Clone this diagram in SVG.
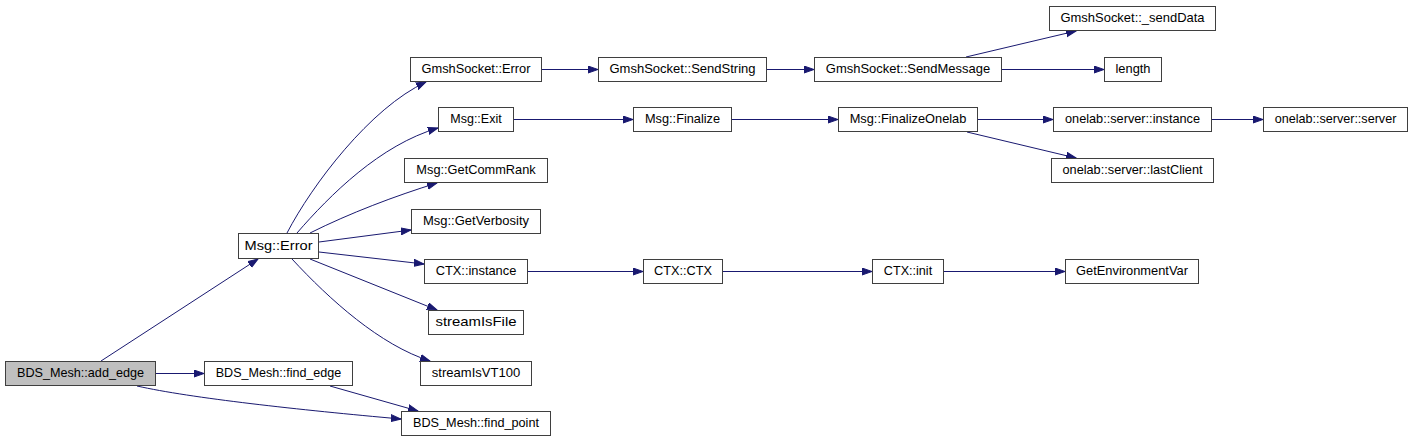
<svg xmlns="http://www.w3.org/2000/svg" width="1413" height="443" viewBox="0 0 1413 443">
<style>
.n rect{fill:#ffffff;stroke:#3f3f3f;stroke-width:1}
.n.root rect{fill:#bfbfbf}
.n text{font-family:"Liberation Sans",Arial,sans-serif;font-size:13px;fill:#000;text-anchor:middle}
#edges path{fill:none;stroke:#191970;stroke-width:1;marker-end:url(#arr)}
</style>
<defs>
<marker id="arr" markerUnits="userSpaceOnUse" markerWidth="12" markerHeight="10" refX="10" refY="4" orient="auto" viewBox="0 0 12 10">
<path d="M0,0.5 L10,4 L0,7.5 z" fill="#191970" stroke="#191970" stroke-width="1"/>
</marker>
</defs>
<rect width="1413" height="443" fill="#ffffff"/>
<g id="edges">
<path d="M101,361 L258,259"/>
<path d="M156,373.5 L204,373.5"/>
<path d="M137,386 C190,398 300,410 401,419"/>
<path d="M330,386 L418,411"/>
<path d="M287,233 C312,185 370,108 426,82"/>
<path d="M297,233 C330,195 380,145 438,128"/>
<path d="M310,233 C350,213 395,196 437,183"/>
<path d="M319,242 L411,230"/>
<path d="M319,252 L424,264"/>
<path d="M310,259 L437,310"/>
<path d="M292,259 C330,300 380,345 430,361"/>
<path d="M541,69.5 L598,69.5"/>
<path d="M767,69.5 L814,69.5"/>
<path d="M966,57 L1076,31"/>
<path d="M1002,69.5 L1104,69.5"/>
<path d="M513,119.5 L633,119.5"/>
<path d="M731,119.5 L838,119.5"/>
<path d="M977,119.5 L1053,119.5"/>
<path d="M967,132 L1076,158"/>
<path d="M1211,119.5 L1263,119.5"/>
<path d="M527,271.5 L643,271.5"/>
<path d="M723,271.5 L872,271.5"/>
<path d="M943,271.5 L1065,271.5"/>
</g>
<g id="add_edge" class="n root"><rect x="5.5" y="361.5" width="150" height="24"/><text x="80.5" y="377" textLength="127" lengthAdjust="spacingAndGlyphs">BDS_Mesh::add_edge</text></g>
<g id="msg_error" class="n"><rect x="238.5" y="233.5" width="80" height="25"/><text x="278.5" y="250" textLength="68" lengthAdjust="spacingAndGlyphs">Msg::Error</text></g>
<g id="find_edge" class="n"><rect x="204.5" y="361.5" width="148" height="24"/><text x="278.5" y="377" textLength="125.5" lengthAdjust="spacingAndGlyphs">BDS_Mesh::find_edge</text></g>
<g id="find_point" class="n"><rect x="401.5" y="411.5" width="149" height="24"/><text x="476" y="427" textLength="126" lengthAdjust="spacingAndGlyphs">BDS_Mesh::find_point</text></g>
<g id="gmsh_error" class="n"><rect x="410.5" y="57.5" width="131" height="24"/><text x="476" y="73" textLength="109" lengthAdjust="spacingAndGlyphs">GmshSocket::Error</text></g>
<g id="msg_exit" class="n"><rect x="438.5" y="107.5" width="75" height="24"/><text x="476" y="123" textLength="51.3" lengthAdjust="spacingAndGlyphs">Msg::Exit</text></g>
<g id="commrank" class="n"><rect x="404.5" y="158.5" width="143" height="24"/><text x="476" y="174" textLength="119.3" lengthAdjust="spacingAndGlyphs">Msg::GetCommRank</text></g>
<g id="verbosity" class="n"><rect x="411.5" y="209.5" width="129" height="24"/><text x="476" y="225" textLength="106" lengthAdjust="spacingAndGlyphs">Msg::GetVerbosity</text></g>
<g id="ctx_instance" class="n"><rect x="424.5" y="259.5" width="103" height="24"/><text x="476" y="275" textLength="80.7" lengthAdjust="spacingAndGlyphs">CTX::instance</text></g>
<g id="streamisfile" class="n"><rect x="428.5" y="310.5" width="95" height="24"/><text x="476" y="326" textLength="81" lengthAdjust="spacingAndGlyphs">streamIsFile</text></g>
<g id="streamisvt100" class="n"><rect x="420.5" y="361.5" width="111" height="24"/><text x="476" y="377" textLength="88.3" lengthAdjust="spacingAndGlyphs">streamIsVT100</text></g>
<g id="sendstring" class="n"><rect x="598.5" y="57.5" width="168" height="24"/><text x="682.5" y="73" textLength="146" lengthAdjust="spacingAndGlyphs">GmshSocket::SendString</text></g>
<g id="sendmessage" class="n"><rect x="814.5" y="57.5" width="187" height="24"/><text x="908" y="73" textLength="164.3" lengthAdjust="spacingAndGlyphs">GmshSocket::SendMessage</text></g>
<g id="finalize" class="n"><rect x="633.5" y="107.5" width="98" height="24"/><text x="682.5" y="123" textLength="75" lengthAdjust="spacingAndGlyphs">Msg::Finalize</text></g>
<g id="finalizeonelab" class="n"><rect x="838.5" y="107.5" width="139" height="24"/><text x="908" y="123" textLength="116.7" lengthAdjust="spacingAndGlyphs">Msg::FinalizeOnelab</text></g>
<g id="senddata" class="n"><rect x="1049.5" y="6.5" width="166" height="24"/><text x="1132.5" y="22" textLength="144" lengthAdjust="spacingAndGlyphs">GmshSocket::_sendData</text></g>
<g id="length" class="n"><rect x="1104.5" y="57.5" width="57" height="24"/><text x="1133" y="73" textLength="35" lengthAdjust="spacingAndGlyphs">length</text></g>
<g id="srv_instance" class="n"><rect x="1053.5" y="107.5" width="158" height="24"/><text x="1132.5" y="123" textLength="135" lengthAdjust="spacingAndGlyphs">onelab::server::instance</text></g>
<g id="srv_server" class="n"><rect x="1263.5" y="107.5" width="144" height="24"/><text x="1335.5" y="123" textLength="121.7" lengthAdjust="spacingAndGlyphs">onelab::server::server</text></g>
<g id="lastclient" class="n"><rect x="1051.5" y="158.5" width="162" height="24"/><text x="1132.5" y="174" textLength="140" lengthAdjust="spacingAndGlyphs">onelab::server::lastClient</text></g>
<g id="ctx_ctx" class="n"><rect x="643.5" y="259.5" width="79" height="24"/><text x="683" y="275" textLength="58" lengthAdjust="spacingAndGlyphs">CTX::CTX</text></g>
<g id="ctx_init" class="n"><rect x="872.5" y="259.5" width="71" height="24"/><text x="908" y="275" textLength="48.3" lengthAdjust="spacingAndGlyphs">CTX::init</text></g>
<g id="getenv" class="n"><rect x="1065.5" y="259.5" width="133" height="24"/><text x="1132" y="275" textLength="112" lengthAdjust="spacingAndGlyphs">GetEnvironmentVar</text></g>
</svg>
